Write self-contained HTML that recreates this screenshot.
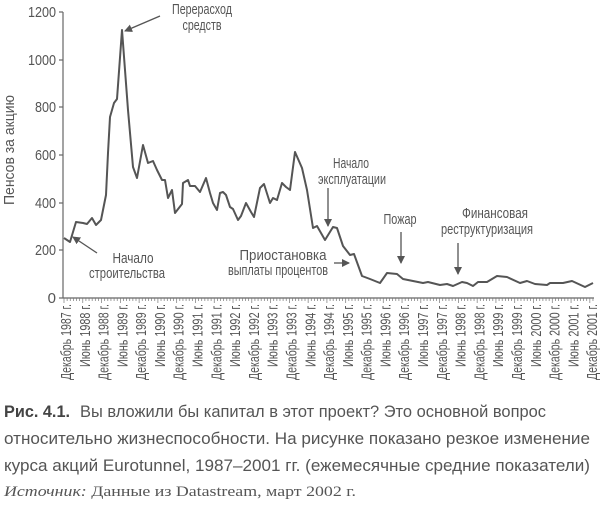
<!DOCTYPE html>
<html><head><meta charset="utf-8"><style>
html,body{margin:0;padding:0;background:#fff;width:600px;height:510px;overflow:hidden}
svg text{font-family:"Liberation Sans Narrow","Liberation Sans",sans-serif;fill:#555}
</style></head><body>
<svg width="600" height="510" viewBox="0 0 600 510" xmlns="http://www.w3.org/2000/svg">
<defs><marker id="ah" markerWidth="8" markerHeight="8" refX="7" refY="4" orient="auto" markerUnits="userSpaceOnUse"><path d="M0,0 L8,4 L0,8 Z" fill="#555"/></marker></defs>
<g font-size="15" text-anchor="end">
<text x="56" y="17" textLength="28" lengthAdjust="spacingAndGlyphs">1200</text><text x="56" y="65" textLength="28" lengthAdjust="spacingAndGlyphs">1000</text><text x="56" y="112" textLength="21" lengthAdjust="spacingAndGlyphs">800</text><text x="56" y="160" textLength="21" lengthAdjust="spacingAndGlyphs">600</text><text x="56" y="208" textLength="21" lengthAdjust="spacingAndGlyphs">400</text><text x="56" y="255" textLength="21" lengthAdjust="spacingAndGlyphs">200</text><text x="56" y="303">0</text>
</g>
<g stroke="#666" stroke-width="1.2">
<line x1="63" y1="298" x2="594" y2="298"/><line x1="63" y1="12" x2="63" y2="298"/>
<line x1="59" y1="12" x2="63" y2="12"/><line x1="59" y1="60" x2="63" y2="60"/><line x1="59" y1="107" x2="63" y2="107"/><line x1="59" y1="155" x2="63" y2="155"/><line x1="59" y1="203" x2="63" y2="203"/><line x1="59" y1="250" x2="63" y2="250"/><line x1="59" y1="298" x2="63" y2="298"/>
</g>
<g id="ticks" stroke="#777" stroke-width="0.7"></g>
<text transform="translate(14,150) rotate(-90)" font-size="15" text-anchor="middle" textLength="110" lengthAdjust="spacingAndGlyphs">Пенсов за акцию</text>
<polyline fill="none" stroke="#555" stroke-width="2" stroke-linejoin="round" points="64,238 70,242 76,222 83,223 87,224 92,218 96,225 101,220 103,210 106,195 108,153 110,117 114,103 117,99 122,30 125,70 128,110 133,167 137,178 143,145 148,163 153,161 157,170 162,180 165,180 168,198 172,190 175,213 182,204 183,183 188,180 190,186 195,186 200,192 206,178 210,193 213,203 217,210 220,193 223,192 226,195 230,207 233,209 238,220 241,216 246,203 251,212 254,217 260,188 264,184 270,203 273,198 277,200 282,183 286,187 290,190 295,152 302,168 307,190 313,228 317,226 325,240 333,227 337,228 343,246 350,255 354,254 362,276 370,279 380,283 387,273 397,274 403,279 413,281 423,283 428,282 440,285 447,284 453,286 462,282 467,283 473,286 478,282 487,282 497,276 507,277 520,283 527,281 535,284 547,285 550,283 563,283 572,281 585,287 593,283"/>
<g font-size="14.5" text-anchor="middle">
<text x="202" y="14" textLength="60" lengthAdjust="spacingAndGlyphs">Перерасход</text><text x="202" y="30" textLength="39" lengthAdjust="spacingAndGlyphs">средств</text>
<text x="133" y="263" textLength="41" lengthAdjust="spacingAndGlyphs">Начало</text><text x="127" y="278" textLength="76" lengthAdjust="spacingAndGlyphs">строительства</text>
<text x="351" y="168" textLength="36" lengthAdjust="spacingAndGlyphs">Начало</text><text x="352" y="184" textLength="68" lengthAdjust="spacingAndGlyphs">эксплуатации</text>
<text x="400" y="224" textLength="33" lengthAdjust="spacingAndGlyphs">Пожар</text>
<text x="495" y="218" textLength="66" lengthAdjust="spacingAndGlyphs">Финансовая</text><text x="487" y="234" textLength="92" lengthAdjust="spacingAndGlyphs">реструктуризация</text>
<text x="283" y="260" textLength="87" lengthAdjust="spacingAndGlyphs">Приостановка</text><text x="278" y="275" textLength="100" lengthAdjust="spacingAndGlyphs">выплаты процентов</text>
</g>
<g stroke="#555" stroke-width="1.3" marker-end="url(#ah)">
<line x1="160" y1="16" x2="125" y2="31"/>
<line x1="97" y1="253" x2="73" y2="237"/>
<line x1="328" y1="188" x2="328" y2="226"/>
<line x1="401" y1="232" x2="401" y2="263"/>
<line x1="458" y1="243" x2="458" y2="274"/>
<line x1="334" y1="263" x2="349" y2="263"/>
</g>
<g id="xl" font-size="14.5" text-anchor="end"></g>
<g font-size="16.5">
<text x="4" y="417"><tspan font-weight="bold" fill="#444" textLength="66" lengthAdjust="spacingAndGlyphs">Рис. 4.1.</tspan></text>
<text x="80" y="417" textLength="466" lengthAdjust="spacingAndGlyphs">Вы вложили бы капитал в этот проект? Это основной вопрос</text>
<text x="4" y="444" textLength="586" lengthAdjust="spacingAndGlyphs">относительно жизнеспособности. На рисунке показано резкое изменение</text>
<text x="4" y="471" textLength="586" lengthAdjust="spacingAndGlyphs">курса акций Eurotunnel, 1987–2001 гг. (ежемесячные средние показатели)</text>
</g>
<text x="4" y="496" font-size="14.5" style="font-family:'Liberation Serif',serif" textLength="352" lengthAdjust="spacingAndGlyphs"><tspan font-style="italic">Источник:</tspan> Данные из Datastream, март 2002 г.</text>
</svg>
<script>
var ns="http://www.w3.org/2000/svg",t=document.getElementById("ticks"),xl=document.getElementById("xl");
for(var i=0;i<=169;i++){var x=64+i*3.13,l=document.createElementNS(ns,"line");l.setAttribute("x1",x);l.setAttribute("x2",x);l.setAttribute("y1",298);l.setAttribute("y2",i%6==0?303:301);t.appendChild(l);}
for(var k=0;k<29;k++){var y=1987+Math.ceil(k/2),lab=(k%2==0?"Декабрь ":"Июнь ")+y+" г.",x=66+k*18.79,tx=document.createElementNS(ns,"text");
tx.setAttribute("transform","translate("+(x+5)+",304) rotate(-90)");tx.setAttribute("textLength",k%2==0?76:63);tx.setAttribute("lengthAdjust","spacingAndGlyphs");tx.textContent=lab;xl.appendChild(tx);}
</script>
</body></html>
